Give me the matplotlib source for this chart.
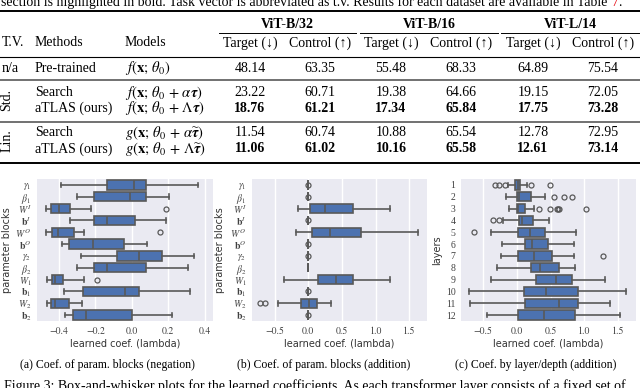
import matplotlib
matplotlib.use('Agg')
import matplotlib.pyplot as plt
from matplotlib.lines import Line2D

plt.rcParams['font.family'] = ['Liberation Serif', 'DejaVu Serif']
plt.rcParams['mathtext.fontset'] = 'stix'

W, H = 640, 388


def fx(x):
    return x / W


def fy(y):
    return 1 - y / H


# ---- table data ----
vit_heads = ['ViT-B/32', 'ViT-B/16', 'ViT-L/14']
col_heads = ['Target (↓)', 'Control (↑)'] * 3
methods = ['Pre-trained', 'Search', 'aTLAS (ours)', 'Search', 'aTLAS (ours)']
models = [r'$f(\mathbf{x};\,\theta_0)$',
          r'$f(\mathbf{x};\,\theta_0\,+\,\alpha\boldsymbol{\tau})$',
          r'$f(\mathbf{x};\,\theta_0\,+\,\Lambda\boldsymbol{\tau})$',
          r'$g(\mathbf{x};\,\theta_0\,+\,\alpha\widetilde{\boldsymbol{\tau}})$',
          r'$g(\mathbf{x};\,\theta_0\,+\,\Lambda\widetilde{\boldsymbol{\tau}})$']
results = [[48.14, 63.35, 55.48, 68.33, 64.89, 75.54],
           [23.22, 60.71, 19.38, 64.66, 19.15, 72.05],
           [18.76, 61.21, 17.34, 65.84, 17.75, 73.28],
           [11.54, 60.74, 10.88, 65.54, 12.78, 72.95],
           [11.06, 61.02, 10.16, 65.58, 12.61, 73.14]]
bold_rows = [False, False, True, False, True]

# ---- box plot data (five-number summaries) ----
blocks = [r'$\gamma_1$', r'$\beta_1$', r'$W^I$', r'$\mathbf{b}^I$', r'$W^O$', r'$\mathbf{b}^O$',
          r'$\gamma_2$', r'$\beta_2$', r'$W_1$', r'$\mathbf{b}_1$', r'$W_2$', r'$\mathbf{b}_2$']
layers = [str(i) for i in range(1, 13)]

neg_lo = [-0.39, -0.30, -0.47, -0.34, -0.47, -0.385, -0.28, -0.30, -0.465, -0.37, -0.465, -0.365]
neg_q1 = [-0.135, -0.205, -0.445, -0.205, -0.44, -0.345, -0.08, -0.21, -0.44, -0.27, -0.445, -0.32]
neg_med = [0.01, -0.01, -0.40, -0.135, -0.405, -0.215, 0.04, -0.135, -0.42, -0.04, -0.42, -0.25]
neg_q3 = [0.075, 0.075, -0.34, 0.02, -0.315, -0.045, 0.165, 0.075, -0.375, 0.04, -0.345, 0.0]
neg_hi = [0.365, 0.205, -0.225, 0.185, -0.265, 0.085, 0.34, 0.31, -0.265, 0.32, -0.275, 0.22]
neg_fl = [[], [], [0.185], [], [0.155], [], [], [], [-0.19], [], [], []]

add_lo = [0, 0, -0.16, 0, -0.18, 0, 0, 0, -0.36, 0, -0.445, 0]
add_q1 = [0, 0, 0.025, 0, 0.05, 0, 0, 0, 0.15, 0, -0.11, 0]
add_med = [0, 0, 0.25, 0, 0.32, 0, 0, 0, 0.405, 0, 0.01, 0]
add_q3 = [0, 0, 0.665, 0, 0.79, 0, 0, 0, 0.66, 0, 0.125, 0]
add_hi = [0, 0, 1.22, 0, 1.63, 0, 0, 0, 1.21, 0, 0.345, 0]
add_fl = [[0.0], [0.0], [], [0.0], [], [0.0], [0.0], [], [], [0.0], [-0.72, -0.645], [0.0]]

lay_lo = [-0.125, -0.16, -0.11, -0.21, -0.385, -0.225, -0.235, -0.30, -0.385, -0.71, -0.695, -0.445]
lay_q1 = [-0.035, 0.0, 0.0, 0.035, 0.01, 0.115, 0.015, 0.215, 0.29, 0.11, 0.125, 0.01]
lay_med = [0.015, 0.025, 0.015, 0.075, 0.19, 0.225, 0.25, 0.345, 0.585, 0.43, 0.62, 0.405]
lay_q3 = [0.05, 0.215, 0.125, 0.235, 0.42, 0.46, 0.52, 0.62, 0.82, 0.915, 0.905, 0.865]
lay_hi = [0.15, 0.42, 0.26, 0.47, 0.875, 0.85, 0.85, 0.865, 1.31, 1.625, 1.38, 1.525]
lay_fl = [[-0.32, -0.27, -0.17, 0.21, 0.485], [0.555, 0.695, 0.825],
          [0.335, 0.495, 0.595, 0.61, 0.62, 1.025], [-0.355, -0.27], [-0.63],
          [], [1.285], [], [], [], [], []]

fig = plt.figure(figsize=(6.4, 3.88), dpi=100)

# ---- partial text line above the table ----
top = fig.text(fx(1), fy(6), 'section is highlighted in bold. Task vector is abbreviated as t.v. '
               'Results for each dataset are available in Table', fontsize=10, va='baseline')
fig.canvas.draw()
bb = top.get_window_extent()
x7 = bb.x1 / fig.dpi / fig.get_figwidth() + 0.006
t7 = fig.text(x7, fy(6), '7', fontsize=10, va='baseline', color='#e8141c')
fig.canvas.draw()
x8 = t7.get_window_extent().x1 / fig.dpi / fig.get_figwidth()
fig.text(x8, fy(6), '.', fontsize=10, va='baseline')


def hline(y, x0, x1, lw, color='black'):
    fig.add_artist(Line2D([fx(x0), fx(x1)], [fy(y), fy(y)], lw=lw, color=color,
                          transform=fig.transFigure))


hline(11, 0, 640, 1.4)
hline(57, 0, 640, 0.8)
hline(80, 0, 640, 1.2, '0.35')
hline(122, 0, 640, 1.2, '0.35')
hline(163, 0, 640, 1.4)

# group headers and cmidrules
vit_x = [287, 429, 570]
rule_spans = [(219, 356), (360, 498), (501, 639)]
for name, xc, (a, b) in zip(vit_heads, vit_x, rule_spans):
    fig.text(fx(xc), fy(24), name, fontsize=10, fontweight='bold', ha='center', va='center')
    hline(33, a, b, 0.7)

col_x = [250, 320, 391, 461, 533, 603]
fig.text(fx(2), fy(43), 'T.V.', fontsize=10, va='center')
fig.text(fx(35), fy(43), 'Methods', fontsize=10, va='center')
fig.text(fx(125), fy(43), 'Models', fontsize=10, va='center')
for xc, head in zip(col_x, col_heads):
    fig.text(fx(xc), fy(43), head, fontsize=10, ha='center', va='center')

row_y = [68, 93, 108, 133, 149]
fig.text(fx(2), fy(68), 'n/a', fontsize=10, va='center')
fig.text(fx(7), fy(100), 'Std.', fontsize=10, rotation=90, ha='center', va='center')
fig.text(fx(7), fy(141), 'Lin.', fontsize=10, rotation=90, ha='center', va='center')
for yr, meth, mod, vals, bold in zip(row_y, methods, models, results, bold_rows):
    fig.text(fx(35), fy(yr), meth, fontsize=10, va='center')
    fig.text(fx(125), fy(yr), mod, fontsize=10.5, va='center')
    for xc, v in zip(col_x, vals):
        fig.text(fx(xc), fy(yr), f'{v:.2f}', fontsize=10, ha='center', va='center',
                 fontweight='bold' if bold else 'normal')


# ---- box plots ----
def stats_from(lo, q1, med, q3, hi, fl):
    return [dict(whislo=a, q1=b, med=c, q3=d, whishi=e, fliers=f)
            for a, b, c, d, e, f in zip(lo, q1, med, q3, hi, fl)]


gray = '0.35'
panels = [
    (37, 213, stats_from(neg_lo, neg_q1, neg_med, neg_q3, neg_hi, neg_fl), blocks,
     (-0.52, 0.445), [-0.4, -0.2, 0.0, 0.2, 0.4], 'parameter blocks', 7,
     '(a) Coef. of param. blocks (negation)', 107),
    (252, 427, stats_from(add_lo, add_q1, add_med, add_q3, add_hi, add_fl), blocks,
     (-0.836, 1.764), [-0.5, 0.0, 0.5, 1.0, 1.5], 'parameter blocks', 220,
     '(b) Coef. of param. blocks (addition)', 324),
    (461, 636, stats_from(lay_lo, lay_q1, lay_med, lay_q3, lay_hi, lay_fl), layers,
     (-0.83, 1.77), [-0.5, 0.0, 0.5, 1.0, 1.5], 'layers', 437,
     '(c) Coef. by layer/depth (addition)', 536),
]
ax_top, ax_bot = 179, 321
for left, right, stats, labels, xlim, xticks, ylab, ylab_x, cap, cap_x in panels:
    ax = fig.add_axes([fx(left), fy(ax_bot), fx(right) - fx(left), (ax_bot - ax_top) / H])
    ax.set_facecolor('#EAEAF2')
    ax.bxp(stats, positions=range(len(stats)), widths=0.8, vert=False, patch_artist=True,
           boxprops=dict(facecolor='#4C72B0', edgecolor=gray, linewidth=1.2),
           whiskerprops=dict(color=gray, linewidth=1.2),
           capprops=dict(color=gray, linewidth=1.2),
           medianprops=dict(color=gray, linewidth=1.2),
           flierprops=dict(marker='o', markerfacecolor='none', markeredgecolor=gray,
                           markersize=3.6, markeredgewidth=0.9))
    ax.set_xlim(*xlim)
    ax.set_ylim(len(stats) - 0.5, -0.5)
    ax.set_xticks(xticks)
    ax.set_xticklabels([f'{t:.1f}'.replace('-', '\u2212') for t in xticks],
                       fontfamily='STIXGeneral', fontsize=7, color='0.25')
    ax.set_yticks(range(len(labels)))
    ax.set_yticklabels(labels, fontsize=7, color='0.25')
    ax.tick_params(length=0, pad=4)
    ax.grid(axis='x', color='white', linewidth=1.0)
    ax.set_axisbelow(True)
    for s in ax.spines.values():
        s.set_visible(False)
    fig.text(fx(ylab_x), fy(250), ylab, rotation=90, ha='center', va='center',
             fontfamily='DejaVu Sans', fontsize=7, color='0.2')
    fig.text(fx((left + right) / 2), fy(344), 'learned coef. (lambda)', ha='center', va='center',
             fontfamily='DejaVu Sans', fontsize=7, color='0.2')
    fig.text(fx(cap_x), fy(365), cap, ha='center', va='center', fontsize=8.5)

fig.text(fx(4), fy(386), 'Figure 3: Box-and-whisker plots for the learned coefficients. As each '
         'transformer layer consists of a fixed set of', fontsize=10, va='center')

fig.savefig('out.png', dpi=100)
